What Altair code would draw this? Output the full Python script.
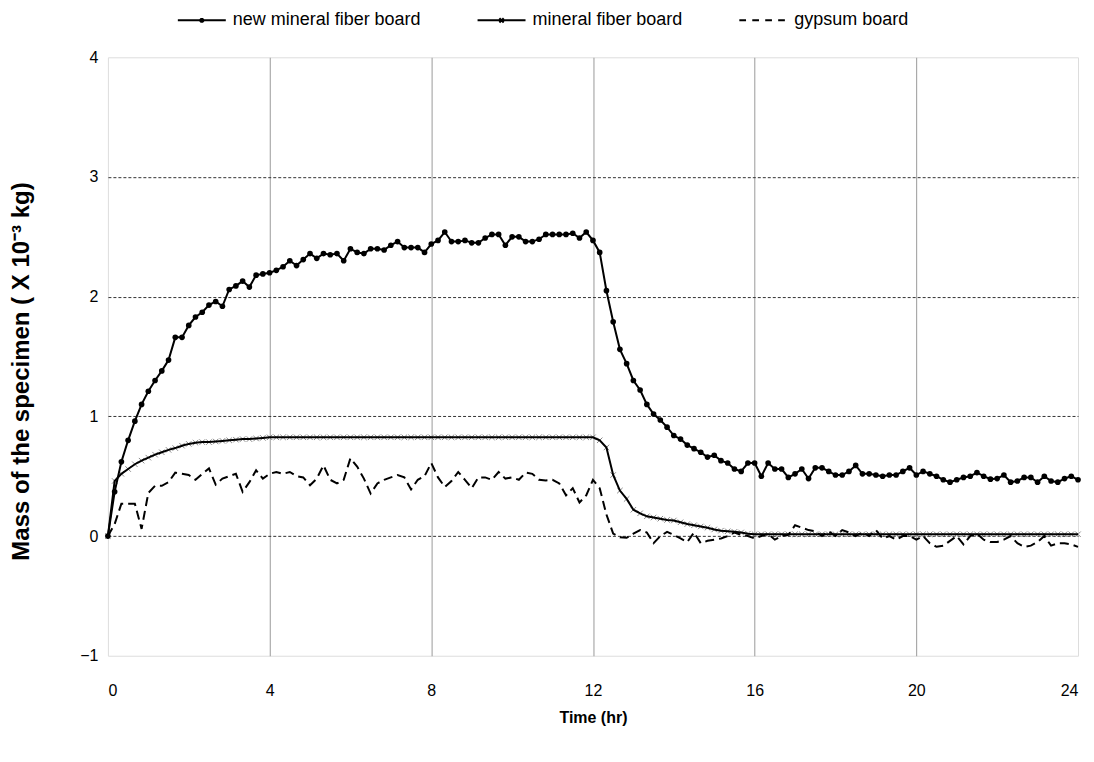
import altair as alt
import pandas as pd

# sampling times in minutes (every 10 min, 0–24 h)
minutes = list(range(0, 1441, 10))

new_mineral = [
    0.00, 0.37, 0.62, 0.80, 0.96, 1.10, 1.21, 1.30, 1.38, 1.47,
    1.66, 1.66, 1.76, 1.83, 1.87, 1.93, 1.96, 1.92, 2.06, 2.09,
    2.13, 2.08, 2.18, 2.19, 2.20, 2.22, 2.25, 2.30, 2.26, 2.31,
    2.36, 2.32, 2.36, 2.35, 2.36, 2.30, 2.40, 2.37, 2.36, 2.40,
    2.40, 2.39, 2.43, 2.46, 2.41, 2.41, 2.41, 2.37, 2.44, 2.47,
    2.54, 2.46, 2.46, 2.47, 2.45, 2.45, 2.49, 2.52, 2.52, 2.43,
    2.50, 2.50, 2.46, 2.46, 2.48, 2.52, 2.52, 2.52, 2.52, 2.53,
    2.49, 2.54, 2.47, 2.37, 2.05, 1.79, 1.56, 1.44, 1.30, 1.22,
    1.10, 1.02, 0.97, 0.91, 0.84, 0.81, 0.76, 0.73, 0.70, 0.66,
    0.675, 0.63, 0.61, 0.56, 0.54, 0.61, 0.61, 0.50, 0.61, 0.56,
    0.56, 0.49, 0.52, 0.56, 0.48, 0.57, 0.57, 0.54, 0.51, 0.51,
    0.54, 0.59, 0.52, 0.52, 0.51, 0.50, 0.51, 0.51, 0.54, 0.57,
    0.51, 0.54, 0.52, 0.50, 0.47, 0.45, 0.47, 0.49, 0.50, 0.53,
    0.50, 0.475, 0.48, 0.51, 0.45, 0.46, 0.49, 0.49, 0.45, 0.50,
    0.46, 0.45, 0.48, 0.50, 0.47,
]

mineral = [
    0.00, 0.46, 0.52, 0.56, 0.60, 0.63, 0.655, 0.68, 0.70, 0.72,
    0.735, 0.755, 0.77, 0.78, 0.785, 0.785, 0.79, 0.795, 0.80, 0.805,
    0.81, 0.81, 0.815, 0.82, 0.825, 0.825, 0.825, 0.825, 0.825, 0.825,
    0.825, 0.825, 0.825, 0.825, 0.825, 0.825, 0.825, 0.825, 0.825, 0.825,
    0.825, 0.825, 0.825, 0.825, 0.825, 0.825, 0.825, 0.825, 0.825, 0.825,
    0.825, 0.825, 0.825, 0.825, 0.825, 0.825, 0.825, 0.825, 0.825, 0.825,
    0.825, 0.825, 0.825, 0.825, 0.825, 0.825, 0.825, 0.825, 0.825, 0.825,
    0.825, 0.825, 0.825, 0.80, 0.74, 0.51, 0.38, 0.31, 0.22, 0.19,
    0.165, 0.155, 0.145, 0.135, 0.13, 0.115, 0.10, 0.09, 0.08, 0.07,
    0.055, 0.045, 0.04, 0.035, 0.03, 0.02, 0.015, 0.015, 0.015, 0.015,
    0.015, 0.015, 0.015, 0.015, 0.015, 0.015, 0.015, 0.015, 0.015, 0.015,
    0.015, 0.015, 0.015, 0.015, 0.015, 0.015, 0.015, 0.015, 0.015, 0.015,
    0.015, 0.015, 0.015, 0.015, 0.015, 0.015, 0.015, 0.015, 0.015, 0.015,
    0.015, 0.015, 0.015, 0.015, 0.015, 0.015, 0.015, 0.015, 0.015, 0.015,
    0.015, 0.015, 0.015, 0.015, 0.015,
]

gypsum = [
    0.00, 0.10, 0.27, 0.27, 0.27, 0.06, 0.36, 0.42, 0.42, 0.45,
    0.53, 0.52, 0.51, 0.47, 0.52, 0.565, 0.43, 0.48, 0.50, 0.52,
    0.37, 0.45, 0.55, 0.48, 0.52, 0.535, 0.52, 0.535, 0.50, 0.49,
    0.425, 0.48, 0.59, 0.47, 0.44, 0.47, 0.65, 0.58, 0.48, 0.355,
    0.44, 0.47, 0.49, 0.51, 0.49, 0.39, 0.47, 0.50, 0.61, 0.49,
    0.41, 0.46, 0.535, 0.47, 0.40, 0.49, 0.49, 0.47, 0.535, 0.48,
    0.49, 0.47, 0.53, 0.52, 0.47, 0.465, 0.47, 0.44, 0.34, 0.40,
    0.28, 0.34, 0.47, 0.40, 0.18, 0.02, -0.01, -0.015, 0.02, 0.05,
    0.03, -0.06, 0.00, 0.035, 0.01, -0.02, -0.05, 0.03, -0.06, -0.04,
    -0.03, -0.02, 0.00, 0.03, 0.01, 0.00, -0.02, 0.00, 0.02, -0.03,
    0.00, 0.01, 0.09, 0.07, 0.05, 0.04, 0.00, 0.04, 0.00, 0.05,
    0.03, 0.00, 0.03, 0.00, 0.05, -0.02, 0.00, -0.03, 0.00, 0.00,
    -0.03, 0.00, -0.06, -0.09, -0.08, -0.04, 0.00, -0.07, 0.00, 0.02,
    -0.03, -0.05, -0.05, -0.03, 0.00, -0.06, -0.09, -0.08, -0.05, 0.00,
    -0.08, -0.06, -0.06, -0.07, -0.09,
]

series_names = ["new mineral fiber board", "mineral fiber board", "gypsum board"]
x_ticks = [0, 4, 8, 12, 16, 20, 24]
y_ticks = [-1, 0, 1, 2, 3, 4]

rows = []
for name, vals in zip(series_names, [new_mineral, mineral, gypsum]):
    for m, v in zip(minutes, vals):
        rows.append({"time": m / 60.0, "mass": v, "series": name})
df = pd.DataFrame(rows)

FONT = "Liberation Sans"

x_enc = alt.X(
    "time:Q",
    scale=alt.Scale(domain=[0, 24], nice=False, zero=False),
    axis=alt.Axis(
        values=x_ticks, title="Time (hr)", ticks=False, domain=False,
        labelFont=FONT, labelFontSize=16, labelColor="black", labelPadding=27,
        titleFont=FONT, titleFontSize=16, titleFontWeight="bold", titleColor="black",
        titleY=62, titleBaseline="middle",
        grid=True, gridColor="#9a9a9a", gridWidth=1,
        gridOpacity={"condition": {"test": "datum.value == 0 || datum.value == 24", "value": 0}, "value": 1},
    ),
)
y_enc = alt.Y(
    "mass:Q",
    scale=alt.Scale(domain=[-1, 4], nice=False, zero=False),
    axis=alt.Axis(
        values=y_ticks, title="Mass of the specimen  ( X 10⁻³ kg)", ticks=False, domain=False,
        labelFont=FONT, labelFontSize=16, labelColor="black", labelPadding=10,
        titleFont=FONT, titleFontSize=24, titleFontWeight="bold", titleColor="black",
        titleX=-86, titleY=314, titleBaseline="middle",
        grid=True, gridColor="#333333", gridWidth=1, gridDash=[3, 2],
        gridOpacity={"condition": {"test": "datum.value == -1 || datum.value == 4", "value": 0}, "value": 1},
    ),
)

base = alt.Chart(df)

mf_points = base.transform_filter(alt.datum.series == "mineral fiber board").mark_point(
    shape="M-1,-1L1,1M-1,1L1,-1", size=30, stroke="#7a7a7a", strokeWidth=0.9, filled=False, opacity=1
).encode(x=x_enc, y=y_enc)

solid_lines = base.transform_filter(alt.datum.series != "gypsum board").mark_line(
    color="black", strokeWidth=2
).encode(x=x_enc, y=y_enc, detail="series:N")

dashed_line = base.transform_filter(alt.datum.series == "gypsum board").mark_line(
    color="black", strokeWidth=2, strokeDash=[9, 5]
).encode(x=x_enc, y=y_enc)

nmf_points = base.transform_filter(alt.datum.series == "new mineral fiber board").mark_point(
    shape="circle", size=32, filled=True, color="black", opacity=1
).encode(x=x_enc, y=y_enc)

# legend symbols: line with dot / line with cross / dashed line
legend_paths = [
    "M-1,0H1M-0.03,-0.06L0.03,-0.06L0.06,-0.03L0.06,0.03L0.03,0.06L-0.03,0.06L-0.06,0.03L-0.06,-0.03Z",
    "M-1,0H1M-0.09,-0.09L0.09,0.09M-0.09,0.09L0.09,-0.09",
    "M-1,0H-0.72M-0.46,0H-0.18M0.08,0H0.36M0.62,0H0.9",
]

legend_layer = base.transform_filter(alt.datum.time == 0).mark_point(
    filled=False, color="black", opacity=0
).encode(
    x=x_enc, y=y_enc,
    shape=alt.Shape(
        "series:N",
        scale=alt.Scale(domain=series_names, range=legend_paths),
        legend=alt.Legend(
            title=None, orient="none", direction="horizontal",
            legendX=69, legendY=-62, padding=0,
            symbolSize=2304, symbolFillColor="black", symbolStrokeColor="black",
            symbolStrokeWidth=2, symbolOpacity=1,
            labelFont=FONT, labelFontSize=18, labelColor="black", labelOffset=6,
            labelLimit=400, columnPadding=52,
        ),
    ),
)

chart = alt.layer(mf_points, solid_lines, dashed_line, nmf_points, legend_layer).properties(
    width=971, height=599,
    autosize=alt.AutoSizeParams(type="none"),
    padding={"left": 100, "top": 49, "right": 8, "bottom": 90},
).configure_view(
    stroke="#4a4a4a", strokeWidth=1.5, fill="white"
).configure(background="white")

chart.save("out.html", embed_options={"renderer": "svg", "actions": False})
